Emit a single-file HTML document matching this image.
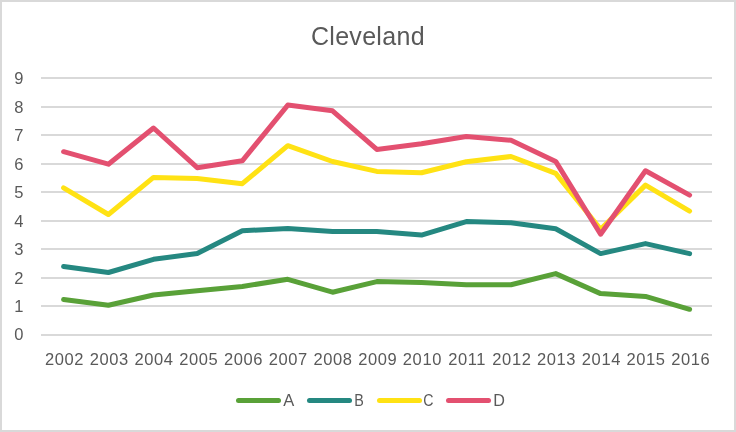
<!DOCTYPE html>
<html><head><meta charset="utf-8"><title>Cleveland</title>
<style>
html,body{margin:0;padding:0;background:#fff;}
body{width:736px;height:432px;overflow:hidden;}
svg{display:block;font-family:"Liberation Sans",sans-serif;}
text{fill:#595959;}
</style></head><body>
<svg width="736" height="432" viewBox="0 0 736 432">
<rect x="0" y="0" width="736" height="432" fill="#ffffff"/>
<rect x="1" y="1" width="734" height="430" fill="none" stroke="#d9d9d9" stroke-width="2"/>
<rect x="41" y="334" width="671" height="2" fill="#d9d9d9"/>
<rect x="41" y="305" width="671" height="2" fill="#d9d9d9"/>
<rect x="41" y="277" width="671" height="2" fill="#d9d9d9"/>
<rect x="41" y="248" width="671" height="2" fill="#d9d9d9"/>
<rect x="41" y="220" width="671" height="2" fill="#d9d9d9"/>
<rect x="41" y="191" width="671" height="2" fill="#d9d9d9"/>
<rect x="41" y="163" width="671" height="2" fill="#d9d9d9"/>
<rect x="41" y="134" width="671" height="2" fill="#d9d9d9"/>
<rect x="41" y="106" width="671" height="2" fill="#d9d9d9"/>
<rect x="41" y="77" width="671" height="2" fill="#d9d9d9"/>
<text x="18.8" y="340.4" font-size="16.5" text-anchor="middle">0</text>
<text x="18.8" y="312.3" font-size="16.5" text-anchor="middle">1</text>
<text x="18.8" y="283.8" font-size="16.5" text-anchor="middle">2</text>
<text x="18.8" y="255.2" font-size="16.5" text-anchor="middle">3</text>
<text x="18.8" y="226.7" font-size="16.5" text-anchor="middle">4</text>
<text x="18.8" y="198.1" font-size="16.5" text-anchor="middle">5</text>
<text x="18.8" y="169.6" font-size="16.5" text-anchor="middle">6</text>
<text x="18.8" y="141.0" font-size="16.5" text-anchor="middle">7</text>
<text x="18.8" y="112.5" font-size="16.5" text-anchor="middle">8</text>
<text x="18.8" y="83.9" font-size="16.5" text-anchor="middle">9</text>
<text x="64.6" y="365" font-size="16.5" letter-spacing="0.6" text-anchor="middle">2002</text>
<text x="109.3" y="365" font-size="16.5" letter-spacing="0.6" text-anchor="middle">2003</text>
<text x="154.0" y="365" font-size="16.5" letter-spacing="0.6" text-anchor="middle">2004</text>
<text x="198.8" y="365" font-size="16.5" letter-spacing="0.6" text-anchor="middle">2005</text>
<text x="243.5" y="365" font-size="16.5" letter-spacing="0.6" text-anchor="middle">2006</text>
<text x="288.2" y="365" font-size="16.5" letter-spacing="0.6" text-anchor="middle">2007</text>
<text x="333.0" y="365" font-size="16.5" letter-spacing="0.6" text-anchor="middle">2008</text>
<text x="377.7" y="365" font-size="16.5" letter-spacing="0.6" text-anchor="middle">2009</text>
<text x="422.4" y="365" font-size="16.5" letter-spacing="0.6" text-anchor="middle">2010</text>
<text x="467.2" y="365" font-size="16.5" letter-spacing="0.6" text-anchor="middle">2011</text>
<text x="511.9" y="365" font-size="16.5" letter-spacing="0.6" text-anchor="middle">2012</text>
<text x="556.6" y="365" font-size="16.5" letter-spacing="0.6" text-anchor="middle">2013</text>
<text x="601.4" y="365" font-size="16.5" letter-spacing="0.6" text-anchor="middle">2014</text>
<text x="646.1" y="365" font-size="16.5" letter-spacing="0.6" text-anchor="middle">2015</text>
<text x="690.8" y="365" font-size="16.5" letter-spacing="0.6" text-anchor="middle">2016</text>
<text x="367.9" y="45" font-size="25" letter-spacing="0.3" text-anchor="middle">Cleveland</text>
<polyline points="63.6,299.6 108.4,305.3 153.5,295.0 197.2,290.7 242.3,286.5 287.8,279.3 332.5,292.2 376.8,281.6 421.5,282.5 466.3,284.7 511.0,284.7 555.7,273.6 600.6,293.6 645.5,296.4 689.6,309.3" fill="none" stroke="#59a138" stroke-width="5" stroke-linecap="round" stroke-linejoin="round"/>
<polyline points="63.6,266.5 108.4,272.5 153.5,259.3 197.2,253.6 242.3,230.8 287.8,228.5 332.5,231.6 376.8,231.6 421.5,235.1 466.3,221.6 511.0,222.8 555.7,228.8 600.6,253.6 645.5,243.6 689.6,253.6" fill="none" stroke="#258881" stroke-width="5" stroke-linecap="round" stroke-linejoin="round"/>
<polyline points="63.6,187.9 108.4,214.5 153.5,177.4 197.2,178.5 242.3,183.7 287.8,145.7 332.5,161.5 376.8,171.4 421.5,172.8 466.3,161.7 511.0,156.5 555.7,173.4 600.6,229.3 645.5,185.1 689.6,211.1" fill="none" stroke="#ffe214" stroke-width="5" stroke-linecap="round" stroke-linejoin="round"/>
<polyline points="63.6,151.7 108.4,164.2 153.5,128.0 197.2,167.7 242.3,160.8 287.8,105.1 332.5,110.8 376.8,149.4 421.5,143.7 466.3,136.5 511.0,140.3 555.7,161.4 600.6,234.2 645.5,170.8 689.6,195.1" fill="none" stroke="#e35070" stroke-width="5" stroke-linecap="round" stroke-linejoin="round"/>
<line x1="238.5" y1="400.5" x2="278.5" y2="400.5" stroke="#59a138" stroke-width="5" stroke-linecap="round"/>
<text transform="translate(283.2 405.8) scale(1 1)" font-size="16.5">A</text>
<line x1="309.5" y1="400.5" x2="349.5" y2="400.5" stroke="#258881" stroke-width="5" stroke-linecap="round"/>
<text transform="translate(354.2 405.8) scale(0.87 1)" font-size="16.5">B</text>
<line x1="379.5" y1="400.5" x2="419.5" y2="400.5" stroke="#ffe214" stroke-width="5" stroke-linecap="round"/>
<text transform="translate(423.2 405.8) scale(0.86 1)" font-size="16.5">C</text>
<line x1="448.5" y1="400.5" x2="488.5" y2="400.5" stroke="#e35070" stroke-width="5" stroke-linecap="round"/>
<text transform="translate(493.2 405.8) scale(0.98 1)" font-size="16.5">D</text>
</svg></body></html>
